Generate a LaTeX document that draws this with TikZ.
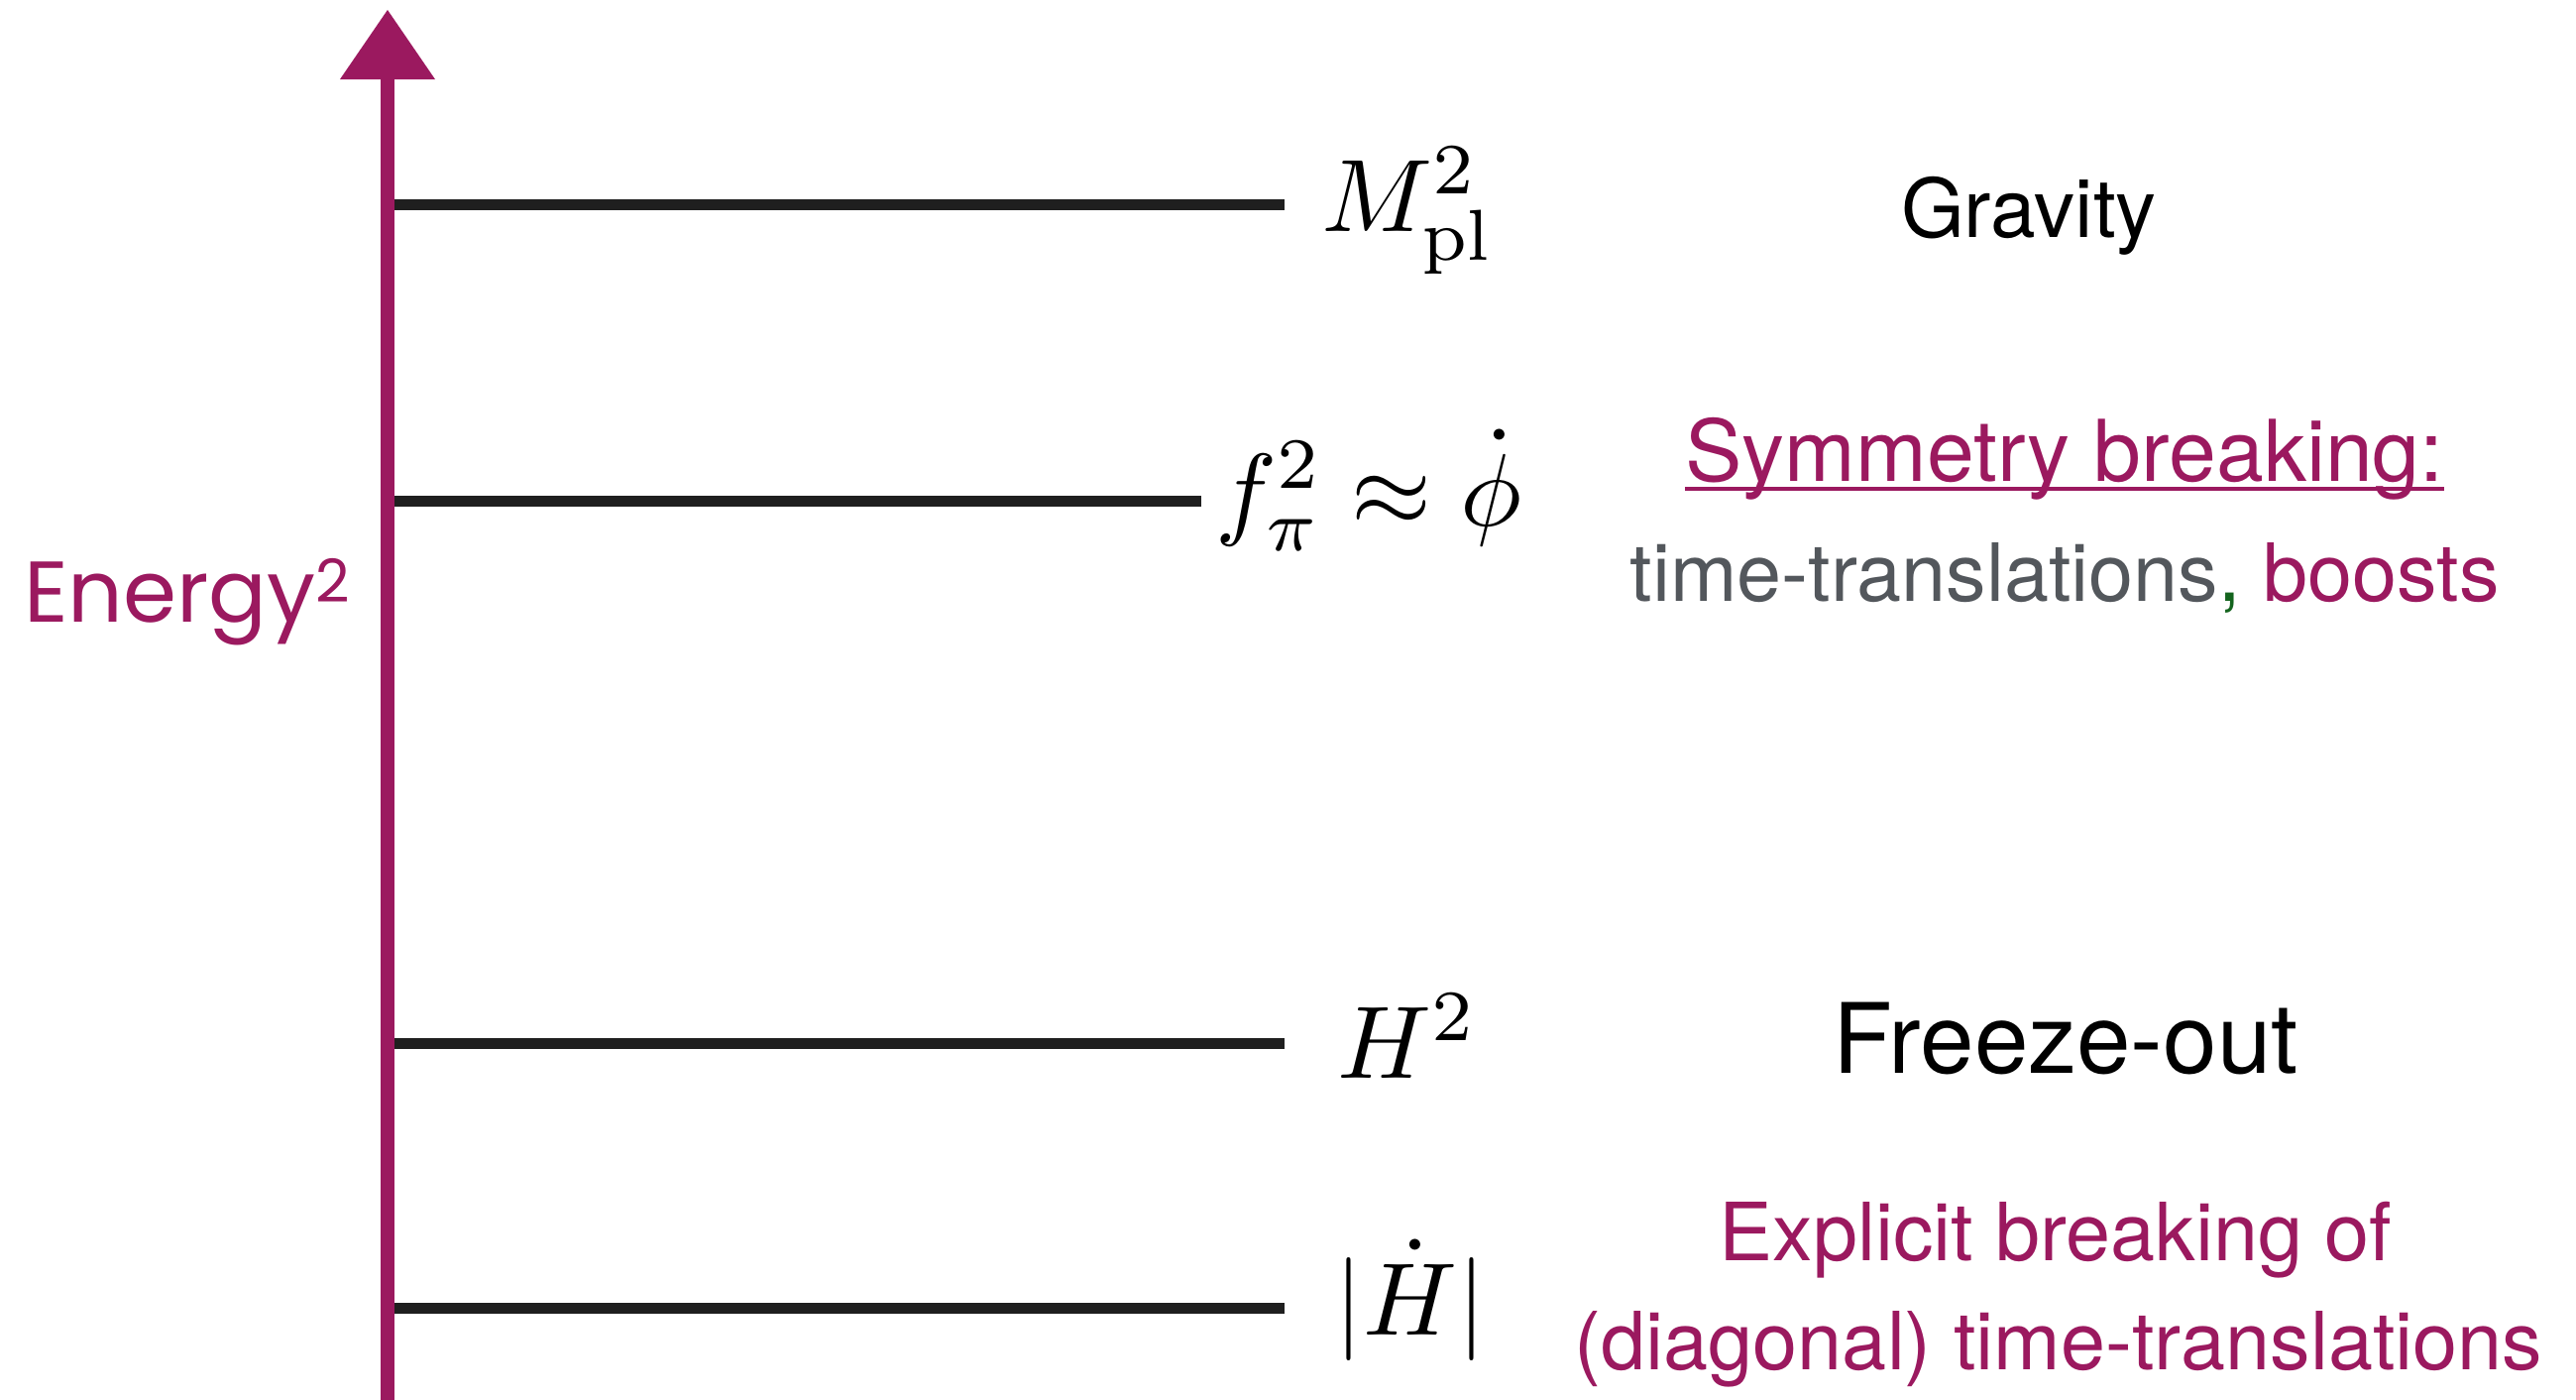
\documentclass[tikz,border=0pt]{standalone}
\usepackage[no-math]{fontspec}
\setmainfont{TeX Gyre Heros}
\newfontfamily\energyfont{Poppins}
\definecolor{plum}{RGB}{155,25,95}
\definecolor{slategray}{RGB}{83,87,92}
\definecolor{commagreen}{RGB}{20,100,30}
\newcommand{\bigmath}[1]{\scalebox{10.4}{$#1$}}
\begin{document}
\begin{tikzpicture}[x=1pt,y=-1pt,
  level/.style={line width=11pt, draw=black!88},
  axisline/.style={line width=14pt, draw=plum},
  lbl/.style={inner sep=0pt, anchor=base west},
  txt/.style={inner sep=0pt, anchor=base, font=\fontsize{81}{97}\selectfont}
]
\useasboundingbox (0,0) rectangle (2599,1411);
% axis
\coordinate (axbot) at (391,1425);
\coordinate (axtop) at (391,76);
\coordinate (tip) at (391,10);
\draw[axisline] (axbot) -- (axtop);
\fill[plum] (tip) -- ++(-48,70) -- ++(96,0) -- cycle;
\node[anchor=base west, inner sep=0pt, text=plum, font=\energyfont\fontsize{87}{100}\selectfont] (energy) at (24,627) {Energy\raisebox{20pt}{\fontsize{60}{62}\selectfont 2}};
% levels
\coordinate (a1) at (398,206); \coordinate (b1) at (1296,206);
\coordinate (a2) at (398,505); \coordinate (b2) at (1212,505);
\coordinate (a3) at (398,1052); \coordinate (b3) at (1296,1052);
\coordinate (a4) at (398,1319); \coordinate (b4) at (1296,1319);
\draw[level] (a1) -- (b1);
\draw[level] (a2) -- (b2);
\draw[level] (a3) -- (b3);
\draw[level] (a4) -- (b4);
% math labels
\node[lbl] (mpl) at (1333,233) {\bigmath{M_{\mathrm{pl}}^2}};
\node[lbl] (fpi) at (1226,530) {\bigmath{f_\pi^2\approx\dot\phi}};
\node[lbl] (h2) at (1349,1087) {\bigmath{H^2}};
\node[lbl] (hdot) at (1346,1346) {\bigmath{|\dot H|}};
% text labels
\node[txt, font=\fontsize{82}{98}\selectfont] (grav) at (2047,239) {Gravity};
\node[txt, text=plum, font=\fontsize{86}{102}\selectfont] (symm) at (2083,485) {Symmetry breaking:};
\draw[plum, line width=4pt] ([yshift=-8pt]symm.base west) -- ([yshift=-8pt]symm.base east);
\node[txt, text=plum] (tt) at (2083,606) {\textcolor{slategray}{time-translations}\textcolor{commagreen}{,} boosts};
\node[txt, font=\fontsize{98}{117}\selectfont] (freeze) at (2084,1082) {Freeze-out};
\node[txt, text=plum] (expl) at (2074,1271) {Explicit breaking of};
\node[txt, text=plum] (diag) at (2077,1381) {(diagonal) time-translations};
\end{tikzpicture}
\end{document}
